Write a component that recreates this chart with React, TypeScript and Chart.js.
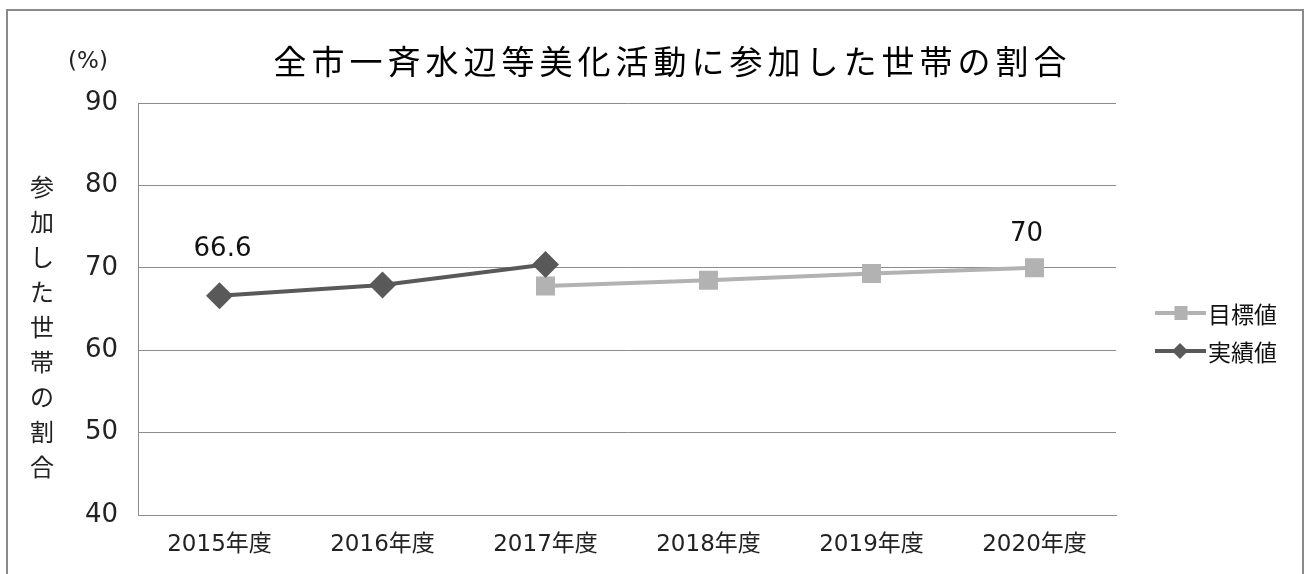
import React, { useEffect, useRef } from "react";
import { Chart, registerables } from "chart.js";
Chart.register(...registerables);

const categories = ["2015年度", "2016年度", "2017年度", "2018年度", "2019年度", "2020年度"];
const targetValues: (number | null)[] = [null, null, 67.8, 68.5, 69.3, 70];
const actualValues: (number | null)[] = [66.6, 67.9, 70.4, null, null, null];
const yMin = 40;
const yMax = 90;
const yStep = 10;
const chartTitle = "全市一斉水辺等美化活動に参加した世帯の割合";
const yAxisTitle = "参加した世帯の割合";
const unitLabel = "(%)";
const targetName = "目標値";
const actualName = "実績値";
// data labels: [datasetIndex, pointIndex, text]
const dataLabels: [number, number, string][] = [
  [1, 0, "66.6"],
  [0, 5, "70"],
];

const NUM_FONT = '"DejaVu Sans", "Noto Sans CJK JP", sans-serif';
const JP_FONT = '"Noto Sans CJK JP", "DejaVu Sans", sans-serif';
const TARGET_COLOR = "#b2b2b2";
const ACTUAL_COLOR = "#595959";
const GRID_COLOR = "#8c8c8c";

const decorPlugin = {
  id: "decor",
  beforeDraw(chart: any) {
    const ctx = chart.ctx;
    ctx.save();
    ctx.fillStyle = "#ffffff";
    ctx.fillRect(0, 0, chart.width, chart.height);
    ctx.restore();
  },
  afterDraw(chart: any) {
    const ctx = chart.ctx as CanvasRenderingContext2D;
    ctx.save();
    // outer border
    ctx.strokeStyle = "#8a8a8a";
    ctx.lineWidth = 2;
    ctx.strokeRect(7, 10, 1296, 700);

    // title
    ctx.fillStyle = "#000";
    ctx.font = `33px ${JP_FONT}`;
    (ctx as any).letterSpacing = "5px";
    ctx.textAlign = "center";
    ctx.textBaseline = "middle";
    ctx.fillText(chartTitle, 670 + 2.5, 61);
    (ctx as any).letterSpacing = "0px";

    // unit
    ctx.fillStyle = "#222";
    ctx.font = `23px ${NUM_FONT}`;
    ctx.fillText(unitLabel, 88, 62);

    // vertical y-axis title
    ctx.font = `24px ${JP_FONT}`;
    const chars = Array.from(yAxisTitle);
    chars.forEach((c, i) => {
      ctx.fillText(c, 42, 187 + i * 35);
    });

    // data labels
    const xs = chart.scales.x;
    const ys = chart.scales.y;
    ctx.font = `26px ${NUM_FONT}`;
    ctx.fillStyle = "#111";
    dataLabels.forEach(([ds, idx, text]) => {
      const v = chart.data.datasets[ds].data[idx];
      const px = xs.getPixelForValue(idx);
      const py = ys.getPixelForValue(v);
      const off = ds === 1 ? 47 : 34;
      const dx = ds === 1 ? 3 : -8;
      ctx.fillText(text, px + dx, py - off);
    });

    // legend
    const legendItems = [
      { name: targetName, color: TARGET_COLOR, style: "rect", y: 313 },
      { name: actualName, color: ACTUAL_COLOR, style: "rectRot", y: 351 },
    ];
    legendItems.forEach((it) => {
      ctx.strokeStyle = it.color;
      ctx.lineWidth = 4;
      ctx.beginPath();
      ctx.moveTo(1155, it.y);
      ctx.lineTo(1206, it.y);
      ctx.stroke();
      ctx.fillStyle = it.color;
      if (it.style === "rect") {
        ctx.fillRect(1181 - 6.5, it.y - 7, 13, 14);
      } else {
        ctx.beginPath();
        ctx.moveTo(1180, it.y - 8);
        ctx.lineTo(1188, it.y);
        ctx.lineTo(1180, it.y + 8);
        ctx.lineTo(1172, it.y);
        ctx.closePath();
        ctx.fill();
      }
      ctx.fillStyle = "#111";
      ctx.font = `23px ${JP_FONT}`;
      ctx.textAlign = "left";
      ctx.fillText(it.name, 1208, it.y + 1);
      ctx.textAlign = "center";
    });
    ctx.restore();
  },
};

export default function App() {
  const ref = useRef<HTMLCanvasElement | null>(null);
  useEffect(() => {
    if (!ref.current) return;
    const chart = new Chart(ref.current, {
      type: "line",
      data: {
        labels: categories,
        datasets: [
          {
            label: targetName,
            data: targetValues,
            borderColor: TARGET_COLOR,
            backgroundColor: TARGET_COLOR,
            borderWidth: 4,
            pointStyle: "rect",
            pointRadius: 13.4,
            pointBorderWidth: 0,
            pointBackgroundColor: TARGET_COLOR,
            spanGaps: false,
            order: 1,
          },
          {
            label: actualName,
            data: actualValues,
            borderColor: ACTUAL_COLOR,
            backgroundColor: ACTUAL_COLOR,
            borderWidth: 4,
            pointStyle: "rectRot",
            pointRadius: 13.5,
            pointBorderWidth: 0,
            pointBackgroundColor: ACTUAL_COLOR,
            spanGaps: false,
            order: 0,
          },
        ],
      },
      options: {
        responsive: false,
        animation: false,
        layout: { padding: { top: 103, right: 191, left: 0, bottom: 0 } },
        plugins: {
          legend: { display: false },
          title: { display: false },
          tooltip: { enabled: false },
        },
        scales: {
          x: {
            offset: true,
            grid: { display: false, drawTicks: false, offset: true },
            border: { display: true, color: GRID_COLOR, width: 1 },
            ticks: {
              font: { family: NUM_FONT, size: 23 },
              color: "#222",
              padding: 16,
              maxRotation: 0,
              autoSkip: false,
            },
            afterFit(scale: any) {
              scale.height = 59;
            },
          },
          y: {
            min: yMin,
            max: yMax,
            ticks: {
              stepSize: yStep,
              font: { family: NUM_FONT, size: 26 },
              color: "#222",
              padding: 20,
            },
            grid: { color: GRID_COLOR, drawTicks: false, lineWidth: 1 },
            border: { display: true, color: GRID_COLOR, width: 1 },
            afterFit(scale: any) {
              scale.width = 138;
            },
          },
        },
      },
      plugins: [decorPlugin],
    });
    return () => chart.destroy();
  }, []);
  return (
    <div style={{ position: "absolute", left: 0, top: 0, width: 1307, height: 574, background: "#fff" }}>
      <canvas ref={ref} width={1307} height={574} />
    </div>
  );
}
